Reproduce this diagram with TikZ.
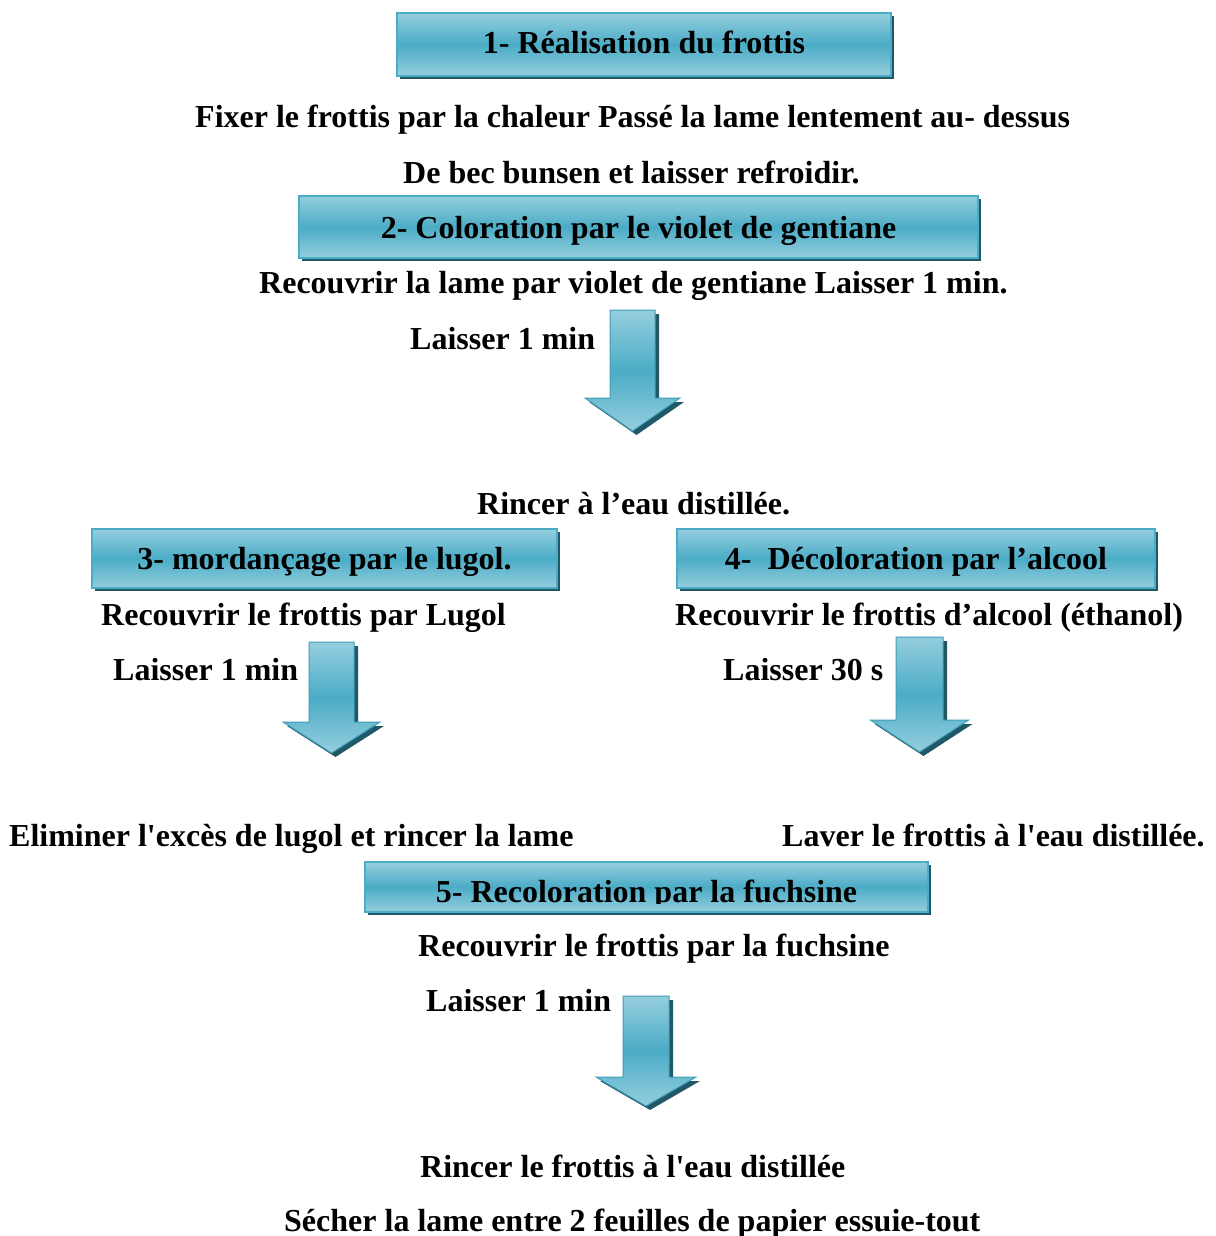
\documentclass[tikz,border=0pt]{standalone}
\usepackage{fontspec}
\setmainfont{Liberation Serif}[Ligatures=TeXOff]
\usetikzlibrary{shadows}
\definecolor{boxlight}{HTML}{95CEDE}
\definecolor{boxmid}{HTML}{4BACC6}
\definecolor{boxedge}{HTML}{4BACC6}
\definecolor{arrowedge}{HTML}{3F9DB7}
\definecolor{boxshadow}{HTML}{215868}
\tikzset{
  stepbox/.style={draw=boxedge, line width=1.5pt, inner sep=0pt,
    top color=boxlight, bottom color=boxlight, middle color=boxmid,
    general shadow={fill=boxshadow, shadow xshift=3pt, shadow yshift=-3pt}},
  lbl/.style={anchor=base west, inner sep=0pt, font=\fontsize{32}{36}\selectfont\bfseries},
  lblc/.style={anchor=base, inner sep=0pt, font=\fontsize{32}{36}\selectfont\bfseries},
  arrowbody/.style={draw=arrowedge, line width=1pt,
    top color=boxlight, bottom color=boxlight, middle color=boxmid},
}
\newcommand{\blockarr}[6]{%
  \fill[boxshadow] ({#1-#3+4},{#2+4}) -- ({#1+#3+4},{#2+4}) -- ({#1+#3+4},{#4+4})
    -- ({#1+#5+4},{#4+4}) -- ({#1+4},{#6+4}) -- ({#1-#5+4},{#4+4})
    -- ({#1-#3+4},{#4+4}) -- cycle;
  \draw[arrowbody] ({#1-#3},#2) -- ({#1+#3},#2) -- ({#1+#3},#4) -- ({#1+#5},#4)
    -- (#1,#6) -- ({#1-#5},#4) -- ({#1-#3},#4) -- cycle;
}
\begin{document}
\begin{tikzpicture}[x=1pt,y=-1pt]
\useasboundingbox (0,0) rectangle (1215,1236);

% Step 1
\node[stepbox, minimum width=494pt, minimum height=63pt] (b1) at (644,44.5) {};
\node[lblc] (t1) at (644,54) {1- Réalisation du frottis};
\node[lbl] (l1a) at (195,128) {Fixer le frottis par la chaleur Passé la lame lentement au- dessus};
\node[lbl] (l1b) at (403,183) {De bec bunsen et laisser refroidir.};

% Step 2
\node[stepbox, minimum width=679pt, minimum height=62pt] (b2) at (638.5,227) {};
\node[lblc] (t2) at (638.5,238) {2- Coloration par le violet de gentiane};
\node[lbl] (l2a) at (259,293) {Recouvrir la lame par violet de gentiane Laisser 1 min.};
\node[lbl] (l2b) at (410,349) {Laisser 1 min};
\blockarr{632.5}{310}{22.5}{398}{47.5}{431}
\node[lbl] (l2c) at (477,514) {Rincer à l’eau distillée.};

% Step 3
\node[stepbox, minimum width=465pt, minimum height=59pt] (b3) at (324.5,558.5) {};
\node[lblc] (t3) at (324.5,569) {3- mordançage par le lugol.};
\node[lbl] (l3a) at (101,625) {Recouvrir le frottis par Lugol};
\node[lbl] (l3b) at (113,680) {Laisser 1 min};
\blockarr{331.5}{642}{22.5}{722}{48.5}{753}
\node[lbl] (l3c) at (9,846) {Eliminer l'excès de lugol et rincer la lame};

% Step 4
\node[stepbox, minimum width=478pt, minimum height=59pt] (b4) at (916,558.5) {};
\node[lblc] (t4) at (916,569) {4-\ \ Décoloration par l’alcool};
\node[lbl] (l4a) at (675,625) {Recouvrir le frottis d’alcool (éthanol)};
\node[lbl] (l4b) at (723,680) {Laisser 30 s};
\blockarr{919.5}{637}{23.5}{720}{49}{752}
\node[lbl] (l4c) at (782,846) {Laver le frottis à l'eau distillée.};

% Step 5
\node[stepbox, minimum width=563pt, minimum height=50pt] (b5) at (646.5,887) {};
\begin{scope}
  \clip (365,860) rectangle (928,903.5);
  \node[lblc] (t5) at (646.5,902) {5- Recoloration par la fuchsine};
\end{scope}
\node[lbl] (l5a) at (418,956) {Recouvrir le frottis par la fuchsine};
\node[lbl] (l5b) at (426,1011) {Laisser 1 min};
\blockarr{646}{996}{23}{1077}{50}{1106}
\node[lbl] (l5c) at (420,1177) {Rincer le frottis à l'eau distillée};
\node[lbl] (l5d) at (284,1231) {Sécher la lame entre 2 feuilles de papier essuie-tout};
\end{tikzpicture}
\end{document}
